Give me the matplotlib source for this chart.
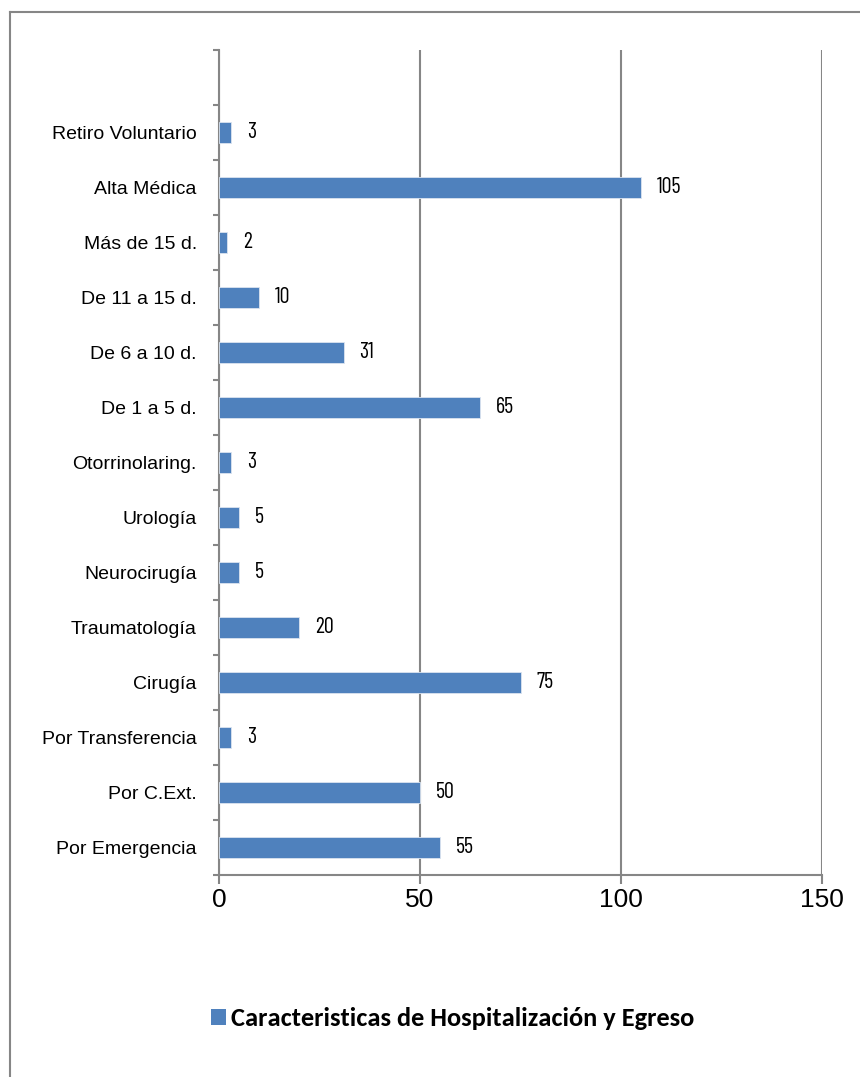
import matplotlib
matplotlib.use("Agg")
import matplotlib.pyplot as plt
from matplotlib.lines import Line2D
from matplotlib.patches import Patch
import numpy as np

# categories from the bottom of the chart upwards
categories = ["Por Emergencia", "Por C.Ext.", "Por Transferencia", "Cirugía",
              "Traumatología", "Neurocirugía", "Urología", "Otorrinolaring.",
              "De 1 a 5 d.", "De 6 a 10 d.", "De 11 a 15 d.", "Más de 15 d.",
              "Alta Médica", "Retiro Voluntario"]
values = [55, 50, 3, 75, 20, 5, 5, 3, 65, 31, 10, 2, 105, 3]
x_ticks = [0, 50, 100, 150]
series_name = "Caracteristicas de Hospitalización y Egreso"

blue = "#4F81BD"
grey = "#868686"

fig = plt.figure(figsize=(8.6, 10.77), dpi=100)
ax = fig.add_axes([219/860, 202/1077, 603/860, 825/1077])

ypos = np.arange(len(categories))
ax.barh(ypos, values, height=0.37, color=blue, edgecolor="#dbe4f0", linewidth=0.6, zorder=3)

for y, v in zip(ypos, values):
    ax.annotate(str(v), (v, y), xytext=(11.5, 0), textcoords="offset points",
                ha="left", va="center", fontsize=16, weight="normal", color="black",
                family=["Barlow Condensed", "DejaVu Sans"])

# one empty slot above the last category
ax.set_ylim(-0.5, len(categories) + 0.5)
ax.set_xlim(0, 150)

ax.set_yticks(ypos)
ax.set_yticklabels(categories, fontsize=14, family="Liberation Sans")
ax.set_yticks(np.arange(-0.5, len(categories) + 1), minor=True)
ax.tick_params(axis="y", which="major", length=0, pad=16)
ax.tick_params(axis="y", which="minor", length=4, width=1.5, color=grey, direction="out")

ax.set_xticks(x_ticks)
ax.set_xticklabels([str(t) for t in x_ticks], fontsize=19, family="Liberation Sans")
ax.tick_params(axis="x", length=6.5, width=1.5, color=grey, pad=3)

ax.grid(axis="x", color=grey, linewidth=1.5, zorder=0)
ax.set_axisbelow(True)
for side in ["top", "right"]:
    ax.spines[side].set_visible(False)
for side in ["left", "bottom"]:
    ax.spines[side].set_color(grey)
    ax.spines[side].set_linewidth(1.5)

# legend below the plot
fig.legend(handles=[Patch(facecolor=blue, edgecolor="none")], labels=[series_name],
           loc="center", bbox_to_anchor=(453/860, 1 - 1019/1077), frameon=False,
           handlelength=0.55, handleheight=0.55, handletextpad=0.2,
           prop={"family": ["Carlito", "DejaVu Sans"], "weight": "bold", "size": 19})

# outer chart frame (left and top edges)
fig.add_artist(Line2D([10/860, 10/860], [0, 1 - 12/1077], color=grey, linewidth=1.5,
                      transform=fig.transFigure))
fig.add_artist(Line2D([10/860, 1], [1 - 12/1077, 1 - 12/1077], color=grey, linewidth=1.5,
                      transform=fig.transFigure))

fig.savefig("out.png", dpi=100, facecolor="white")
